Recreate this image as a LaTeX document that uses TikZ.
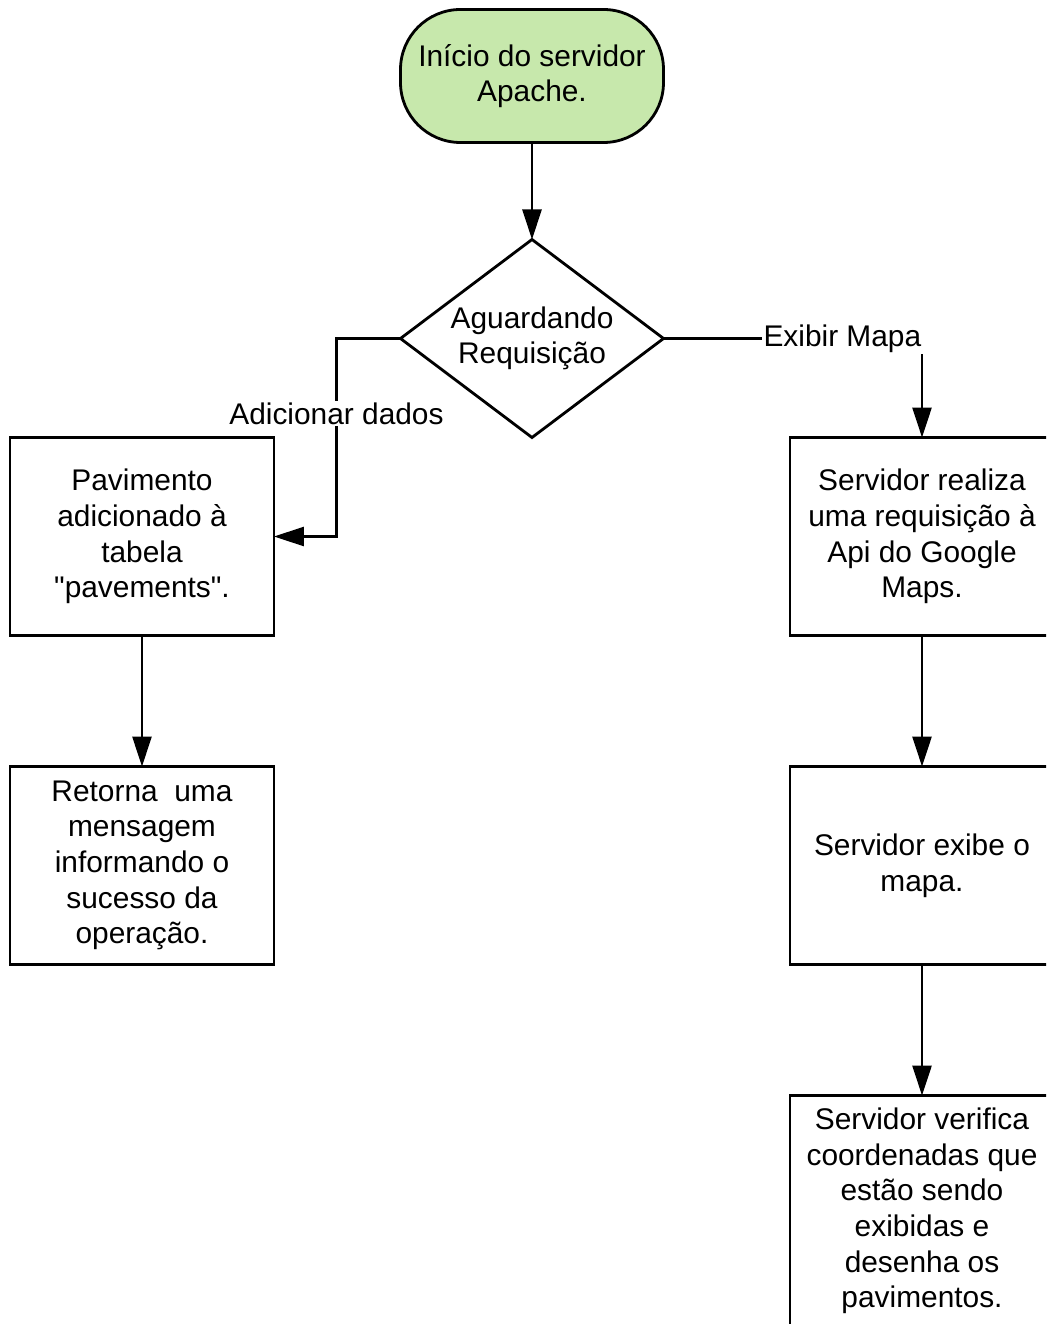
\documentclass[tikz,border=0pt]{standalone}
\usepackage{fontspec}
\setmainfont{Liberation Sans}
\usepackage{xcolor}
\definecolor{fcGreen}{RGB}{199,232,172}
\usepackage{tikz}
\usetikzlibrary{positioning,arrows.meta,shapes.geometric}

\begin{document}
\begin{tikzpicture}[node distance=2.62cm,
  every node/.style={font=\fontsize{17}{20.3}\selectfont},
  box/.style={draw,line width=1.6pt,align=center,minimum width=5.28cm,minimum height=3.96cm,inner sep=2pt,outer sep=0pt},
  term/.style={box,fill=fcGreen,rounded corners=1.2cm,minimum width=5.26cm,minimum height=2.66cm},
  dec/.style={diamond,draw,line width=1.6pt,align=center,aspect=1.33,inner sep=0pt,outer sep=0pt,minimum width=5.26cm,minimum height=3.96cm},
  lbl/.style={fill=white,inner sep=1pt},
  a/.style={-{Triangle[length=6mm,width=3.8mm]},line width=1.6pt}]
  \path[use as bounding box,clip] (-10.64,1.52) rectangle (10.28,-24.96);
  \node[term] (start) {Início do servidor\\Apache.};
  \node[dec,below=1.94cm of start] (wait) {Aguardando\\Requisição};
  \node[box,below left=0mm and 5.16cm of wait.south] (pav) {Pavimento\\adicionado à\\tabela\\\textquotedbl pavements\textquotedbl.};
  \node[box,below=of pav] (msg) {Retorna~ uma\\mensagem\\informando o\\sucesso da\\operação.};
  \node[box,below right=0mm and 5.16cm of wait.south] (api) {Servidor realiza\\uma requisição à\\Api do Google\\Maps.};
  \node[box,below=of api] (show) {Servidor exibe o\\mapa.};
  \node[box,below=of show,minimum height=4.62cm] (draw) {Servidor verifica\\coordenadas que\\estão sendo\\exibidas e\\desenha os\\pavimentos.};

  \draw[a] (start) -- (wait);
  \draw[a] (wait.west) -- ++(-1.28,0) |- node[lbl,pos=0.19] {Adicionar dados} (pav.east);
  \draw[a] (wait.east) -| node[lbl,pos=0.346] {Exibir Mapa} (api.north);
  \draw[a] (pav) -- (msg);
  \draw[a] (api) -- (show);
  \draw[a] (show) -- (draw);
\end{tikzpicture}
\end{document}
